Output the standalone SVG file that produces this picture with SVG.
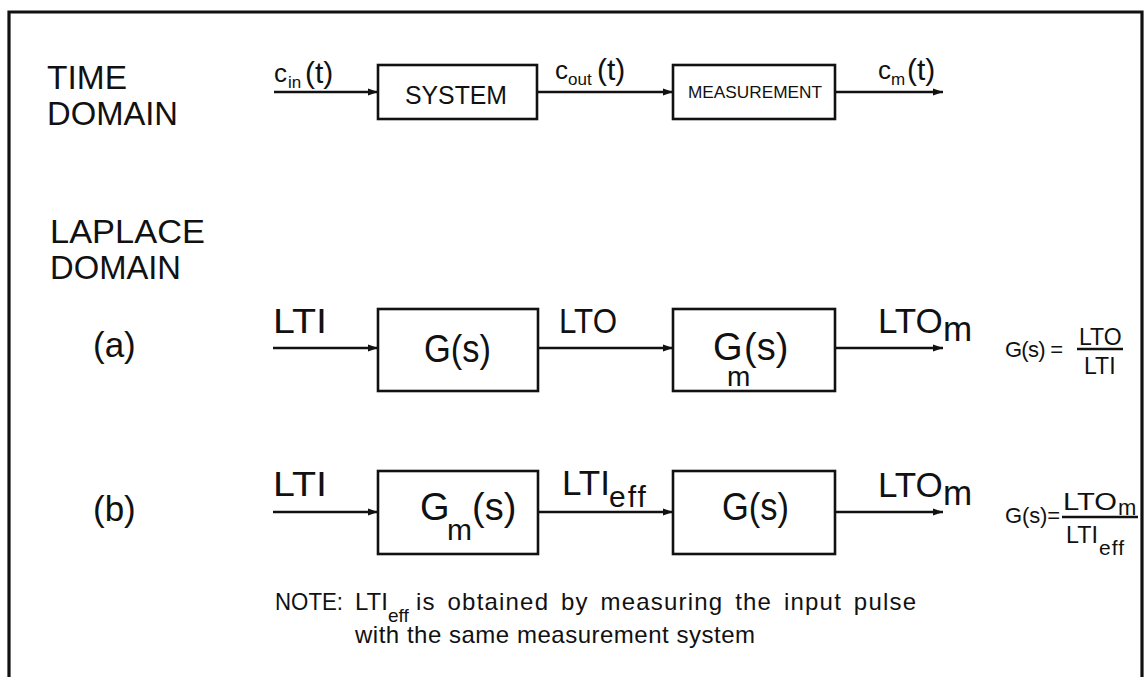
<svg xmlns="http://www.w3.org/2000/svg" width="1148" height="677" viewBox="0 0 1148 677">
<defs>
<marker id="arr" markerUnits="userSpaceOnUse" markerWidth="12" markerHeight="10" refX="10" refY="5" orient="auto">
<path d="M0,1.5 L10,5 L0,8.5 Z" fill="#111"/>
</marker>
<style>
text{font-family:"Liberation Sans",Arial,sans-serif;fill:#111}
.box{fill:none;stroke:#111;stroke-width:2.6}
.ln{fill:none;stroke:#111;stroke-width:2.6}
.frame{fill:none;stroke:#111;stroke-width:3.2}
.big{font-size:33px}
.mid{font-size:35px}
.sm{font-size:26px}
.fr{font-size:22px}
.nt{font-size:24px}
</style>
</defs>
<rect x="0" y="0" width="1148" height="677" fill="#fff"/>
<g id="frame"><path class="frame" d="M9,677 V12 H1142 V677"/></g>

<g id="section-labels">
<text class="big" x="47" y="89" textLength="80" lengthAdjust="spacingAndGlyphs">TIME</text>
<text class="big" x="47" y="125" textLength="131" lengthAdjust="spacingAndGlyphs">DOMAIN</text>
<text class="big" x="50" y="243" textLength="155" lengthAdjust="spacingAndGlyphs">LAPLACE</text>
<text class="big" x="50" y="279" textLength="131" lengthAdjust="spacingAndGlyphs">DOMAIN</text>
<text class="mid" x="93" y="357">(a)</text>
<text class="mid" x="93" y="521">(b)</text>
</g>

<g id="connectors">
<line class="ln" x1="274" y1="92" x2="378" y2="92" marker-end="url(#arr)"/>
<line class="ln" x1="537" y1="92" x2="673" y2="92" marker-end="url(#arr)"/>
<line class="ln" x1="835" y1="92" x2="943" y2="92" marker-end="url(#arr)"/>
<line class="ln" x1="273" y1="348" x2="378" y2="348" marker-end="url(#arr)"/>
<line class="ln" x1="538" y1="348" x2="673" y2="348" marker-end="url(#arr)"/>
<line class="ln" x1="835" y1="348" x2="943" y2="348" marker-end="url(#arr)"/>
<line class="ln" x1="273" y1="512" x2="378" y2="512" marker-end="url(#arr)"/>
<line class="ln" x1="538" y1="512" x2="673" y2="512" marker-end="url(#arr)"/>
<line class="ln" x1="835" y1="512" x2="943" y2="512" marker-end="url(#arr)"/>
</g>

<g id="signal-labels">
<text class="sm" x="274" y="82">c<tspan x="288" y="88" font-size="17">in</tspan><tspan x="305" y="83" font-size="30">(t)</tspan></text>
<text class="sm" x="555" y="79">c<tspan x="568" y="85" font-size="17">out</tspan><tspan x="597" y="80" font-size="30">(t)</tspan></text>
<text class="sm" x="878" y="79">c<tspan x="891" y="85" font-size="17">m</tspan><tspan x="907" y="80" font-size="30">(t)</tspan></text>
<text class="mid" x="273" y="333" textLength="54" lengthAdjust="spacingAndGlyphs">LTI</text>
<text class="mid" x="559" y="333" textLength="58" lengthAdjust="spacingAndGlyphs">LTO</text>
<text class="mid" x="878" y="333">LTO<tspan x="943" y="341">m</tspan></text>
<text class="mid" x="273" y="496" textLength="54" lengthAdjust="spacingAndGlyphs">LTI</text>
<text class="mid" x="562" y="495">LTI<tspan x="609" y="507" font-size="30" letter-spacing="2">eff</tspan></text>
<text class="mid" x="878" y="497">LTO<tspan x="943" y="505">m</tspan></text>
</g>

<g id="node-system">
<rect class="box" x="378" y="65" width="159" height="54"/>
<text class="sm" x="405" y="104" textLength="102" lengthAdjust="spacingAndGlyphs">SYSTEM</text>
</g>
<g id="node-measurement">
<rect class="box" x="673" y="65" width="162" height="54"/>
<text x="688" y="98" font-size="17" textLength="134" lengthAdjust="spacingAndGlyphs">MEASUREMENT</text>
</g>

<g id="node-a-g">
<rect class="box" x="378" y="309" width="160" height="82"/>
<text x="424" y="362" font-size="38" textLength="67" lengthAdjust="spacingAndGlyphs">G(s)</text>
</g>
<g id="node-a-gm">
<rect class="box" x="673" y="309" width="162" height="82"/>
<text x="713" y="360" font-size="38">G<tspan x="744" y="360">(s)</tspan></text>
<text x="727" y="386" font-size="28">m</text>
</g>

<g id="node-b-gm">
<rect class="box" x="378" y="471" width="160" height="83"/>
<text x="420" y="520" font-size="38">G<tspan x="447" y="540" font-size="30">m</tspan><tspan x="472" y="520">(s)</tspan></text>
</g>
<g id="node-b-g">
<rect class="box" x="673" y="471" width="162" height="83"/>
<text x="722" y="520" font-size="38" textLength="67" lengthAdjust="spacingAndGlyphs">G(s)</text>
</g>

<g id="formula-a">
<text class="fr" x="1005" y="357" textLength="58" lengthAdjust="spacing">G(s) =</text>
<line class="ln" x1="1077" y1="349" x2="1123" y2="349" stroke-width="2"/>
<text x="1079" y="345" font-size="23">LTO</text>
<text x="1084" y="374" font-size="23">LTI</text>
</g>
<g id="formula-b">
<text class="fr" x="1005" y="523" textLength="55" lengthAdjust="spacing">G(s)=</text>
<line class="ln" x1="1062" y1="517" x2="1138" y2="517" stroke-width="2"/>
<text x="1063" y="510" font-size="23" textLength="54" lengthAdjust="spacingAndGlyphs">LTO</text>
<text x="1118" y="515" font-size="22">m</text>
<text x="1066" y="543" font-size="23" textLength="32" lengthAdjust="spacingAndGlyphs">LTI</text>
<text x="1099" y="555" font-size="21" letter-spacing="1">eff</text>
</g>

<g id="note">
<text class="nt" x="275" y="610" textLength="68" lengthAdjust="spacingAndGlyphs">NOTE:</text>
<text class="nt" x="355" y="610">LTI</text>
<text x="388" y="622" font-size="19">eff</text>
<text class="nt" x="416" y="610" textLength="500" lengthAdjust="spacing" word-spacing="4">is obtained by measuring the input pulse</text>
<text class="nt" x="355" y="643" textLength="400" lengthAdjust="spacing">with the same measurement system</text>
</g>
</svg>
